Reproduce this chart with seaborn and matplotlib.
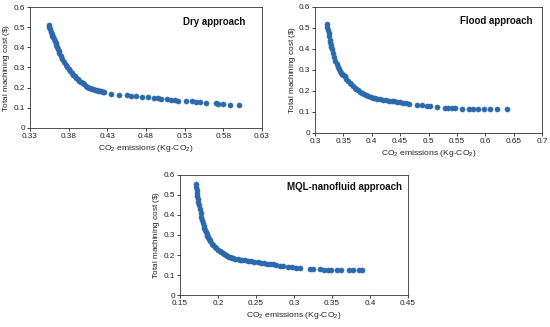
import matplotlib
matplotlib.use("Agg")
import matplotlib.pyplot as plt
import seaborn as sns
import pandas as pd

# ---- data ----
dry_x = [0.354, 0.355, 0.356, 0.357, 0.358, 0.359, 0.360, 0.361, 0.362, 0.363, 0.364, 0.365,
         0.366, 0.367, 0.368, 0.370, 0.372, 0.374, 0.376, 0.378, 0.380, 0.382, 0.384, 0.386,
         0.388, 0.390, 0.392, 0.394, 0.396, 0.398, 0.400, 0.402, 0.404, 0.406, 0.408, 0.410,
         0.412, 0.414, 0.416, 0.418, 0.420, 0.422, 0.424, 0.426,
         0.435, 0.445, 0.455, 0.460, 0.467, 0.475, 0.482, 0.490, 0.495, 0.500, 0.507, 0.512,
         0.517, 0.522, 0.532, 0.540, 0.545, 0.550, 0.558, 0.570, 0.573, 0.580, 0.588, 0.600]
dry_y = [0.510, 0.500, 0.490, 0.478, 0.468, 0.458, 0.450, 0.440, 0.430, 0.420, 0.410, 0.400,
         0.392, 0.382, 0.373, 0.358, 0.343, 0.328, 0.314, 0.302, 0.292, 0.282, 0.273, 0.264,
         0.256, 0.249, 0.242, 0.235, 0.228, 0.222, 0.216, 0.210, 0.205, 0.200, 0.197, 0.194,
         0.191, 0.189, 0.187, 0.185, 0.183, 0.181, 0.179, 0.177,
         0.170, 0.165, 0.162, 0.160, 0.158, 0.153, 0.152, 0.150, 0.148, 0.145, 0.143, 0.140,
         0.138, 0.135, 0.135, 0.132, 0.130, 0.128, 0.125, 0.122, 0.120, 0.118, 0.115, 0.115]

flood_x = [0.321, 0.322, 0.323, 0.324, 0.325, 0.326, 0.327, 0.328, 0.329, 0.330, 0.332, 0.334,
           0.336, 0.338, 0.340, 0.342, 0.344, 0.346, 0.348, 0.350, 0.352, 0.355, 0.358, 0.361,
           0.364, 0.367, 0.370, 0.373, 0.376, 0.379, 0.382, 0.386, 0.390, 0.394, 0.398, 0.402,
           0.406, 0.410, 0.415, 0.420, 0.425, 0.430, 0.435, 0.440, 0.445, 0.450, 0.455, 0.460,
           0.465, 0.479, 0.488, 0.497, 0.503, 0.515, 0.529, 0.535, 0.541, 0.547, 0.559, 0.571,
           0.579, 0.588, 0.597, 0.609, 0.621, 0.638]
flood_y = [0.518, 0.505, 0.490, 0.475, 0.460, 0.445, 0.432, 0.420, 0.410, 0.400, 0.382, 0.362,
           0.345, 0.328, 0.315, 0.303, 0.295, 0.287, 0.280, 0.275, 0.270, 0.258, 0.248, 0.240,
           0.232, 0.224, 0.216, 0.209, 0.203, 0.197, 0.191, 0.185, 0.180, 0.176, 0.172, 0.169,
           0.166, 0.163, 0.160, 0.158, 0.156, 0.154, 0.152, 0.150, 0.148, 0.146, 0.144, 0.142,
           0.140, 0.135, 0.132, 0.130, 0.127, 0.124, 0.121, 0.121, 0.119, 0.117, 0.116, 0.116,
           0.116, 0.116, 0.116, 0.116, 0.116, 0.116]

mql_x = [0.171, 0.1715, 0.172, 0.1725, 0.173, 0.1735, 0.174, 0.175, 0.176, 0.177, 0.178, 0.179,
         0.180, 0.181, 0.182, 0.183, 0.184, 0.185, 0.186, 0.187, 0.188, 0.189, 0.190, 0.192,
         0.194, 0.196, 0.198, 0.200, 0.202, 0.204, 0.206, 0.208, 0.210, 0.212, 0.214, 0.216,
         0.218, 0.220, 0.223, 0.226, 0.229, 0.232, 0.236, 0.240, 0.244, 0.248, 0.252, 0.256,
         0.260, 0.264, 0.268, 0.272, 0.276, 0.281, 0.286, 0.292, 0.297, 0.303, 0.308, 0.321,
         0.325, 0.334, 0.340, 0.345, 0.349, 0.356, 0.362, 0.373, 0.378, 0.386, 0.389]
mql_y = [0.555, 0.540, 0.525, 0.510, 0.495, 0.480, 0.465, 0.450, 0.430, 0.410, 0.392, 0.375,
         0.360, 0.347, 0.335, 0.324, 0.314, 0.305, 0.296, 0.288, 0.281, 0.274, 0.268, 0.257,
         0.248, 0.240, 0.233, 0.226, 0.220, 0.214, 0.209, 0.204, 0.199, 0.195, 0.192, 0.189,
         0.186, 0.184, 0.181, 0.179, 0.177, 0.175, 0.173, 0.172, 0.168, 0.165, 0.163, 0.161,
         0.159, 0.157, 0.155, 0.153, 0.150, 0.146, 0.144, 0.142, 0.139, 0.136, 0.134, 0.132,
         0.130, 0.128, 0.126, 0.125, 0.124, 0.123, 0.123, 0.123, 0.123, 0.123, 0.123]

titles = ["Dry approach", "Flood approach", "MQL-nanofluid approach"]
x_ticks = [[0.33, 0.38, 0.43, 0.48, 0.53, 0.58, 0.63],
           [0.3, 0.35, 0.4, 0.45, 0.5, 0.55, 0.6, 0.65, 0.7],
           [0.15, 0.2, 0.25, 0.3, 0.35, 0.4, 0.45]]
x_tick_labels = [["0.33", "0.38", "0.43", "0.48", "0.53", "0.58", "0.63"],
                 ["0.3", "0.35", "0.4", "0.45", "0.5", "0.55", "0.6", "0.65", "0.7"],
                 ["0.15", "0.2", "0.25", "0.3", "0.35", "0.4", "0.45"]]
y_ticks = [0, 0.1, 0.2, 0.3, 0.4, 0.5, 0.6]
y_tick_labels = ["0", "0.1", "0.2", "0.3", "0.4", "0.5", "0.6"]

sns.set_style("ticks")
plt.rcParams['font.family'] = ['Liberation Sans', 'DejaVu Sans']
plt.rcParams['mathtext.fontset'] = 'custom'
plt.rcParams['mathtext.rm'] = 'Liberation Sans'

W, H = 550, 327
fig = plt.figure(figsize=(5.5, 3.27), dpi=100)

# axes boxes in pixels: left, top, right, bottom
boxes = [(30, 7, 262, 128), (315, 7, 542, 133), (180, 175, 408, 295)]
title_pos = [(0.93, 0.876), (0.96, 0.89), (0.974, 0.90)]
datasets = [(dry_x, dry_y), (flood_x, flood_y), (mql_x, mql_y)]
color = "#2B69AD"

for i, ((l, t, r, b), (xs, ys)) in enumerate(zip(boxes, datasets)):
    ax = fig.add_axes([l / W, 1 - b / H, (r - l) / W, (b - t) / H])
    df = pd.DataFrame({"x": xs, "y": ys})
    sns.scatterplot(data=df, x="x", y="y", ax=ax, color=color, s=14,
                    edgecolor=color, linewidth=0.3, legend=False)
    ax.set_xlim(x_ticks[i][0], x_ticks[i][-1])
    ax.set_ylim(0, 0.6)
    ax.set_xticks(x_ticks[i])
    ax.set_xticklabels(x_tick_labels[i])
    ax.set_yticks(y_ticks)
    ax.set_yticklabels(y_tick_labels)
    ax.tick_params(labelsize=5.9, length=2, width=0.6, pad=1.5, colors="#222222")
    for sp in ax.spines.values():
        sp.set_visible(True)
        sp.set_linewidth(0.6)
        sp.set_color("#333333")
    ax.set_xlabel("CO$_2$ emissions (Kg-CO$_2$)", fontsize=6.1, labelpad=2.5, color="#222222")
    ax.set_ylabel("Total machining cost ($\\$$)", fontsize=5.9, color="#222222", va="center")
    ax.yaxis.set_label_coords(-23.0 / (r - l), 0.5)
    tx, ty = title_pos[i]
    ax.text(tx, ty, titles[i], transform=ax.transAxes, ha="right", va="center",
            fontsize=7, fontweight="bold", color="#111111")

fig.savefig("out.png", dpi=100)
